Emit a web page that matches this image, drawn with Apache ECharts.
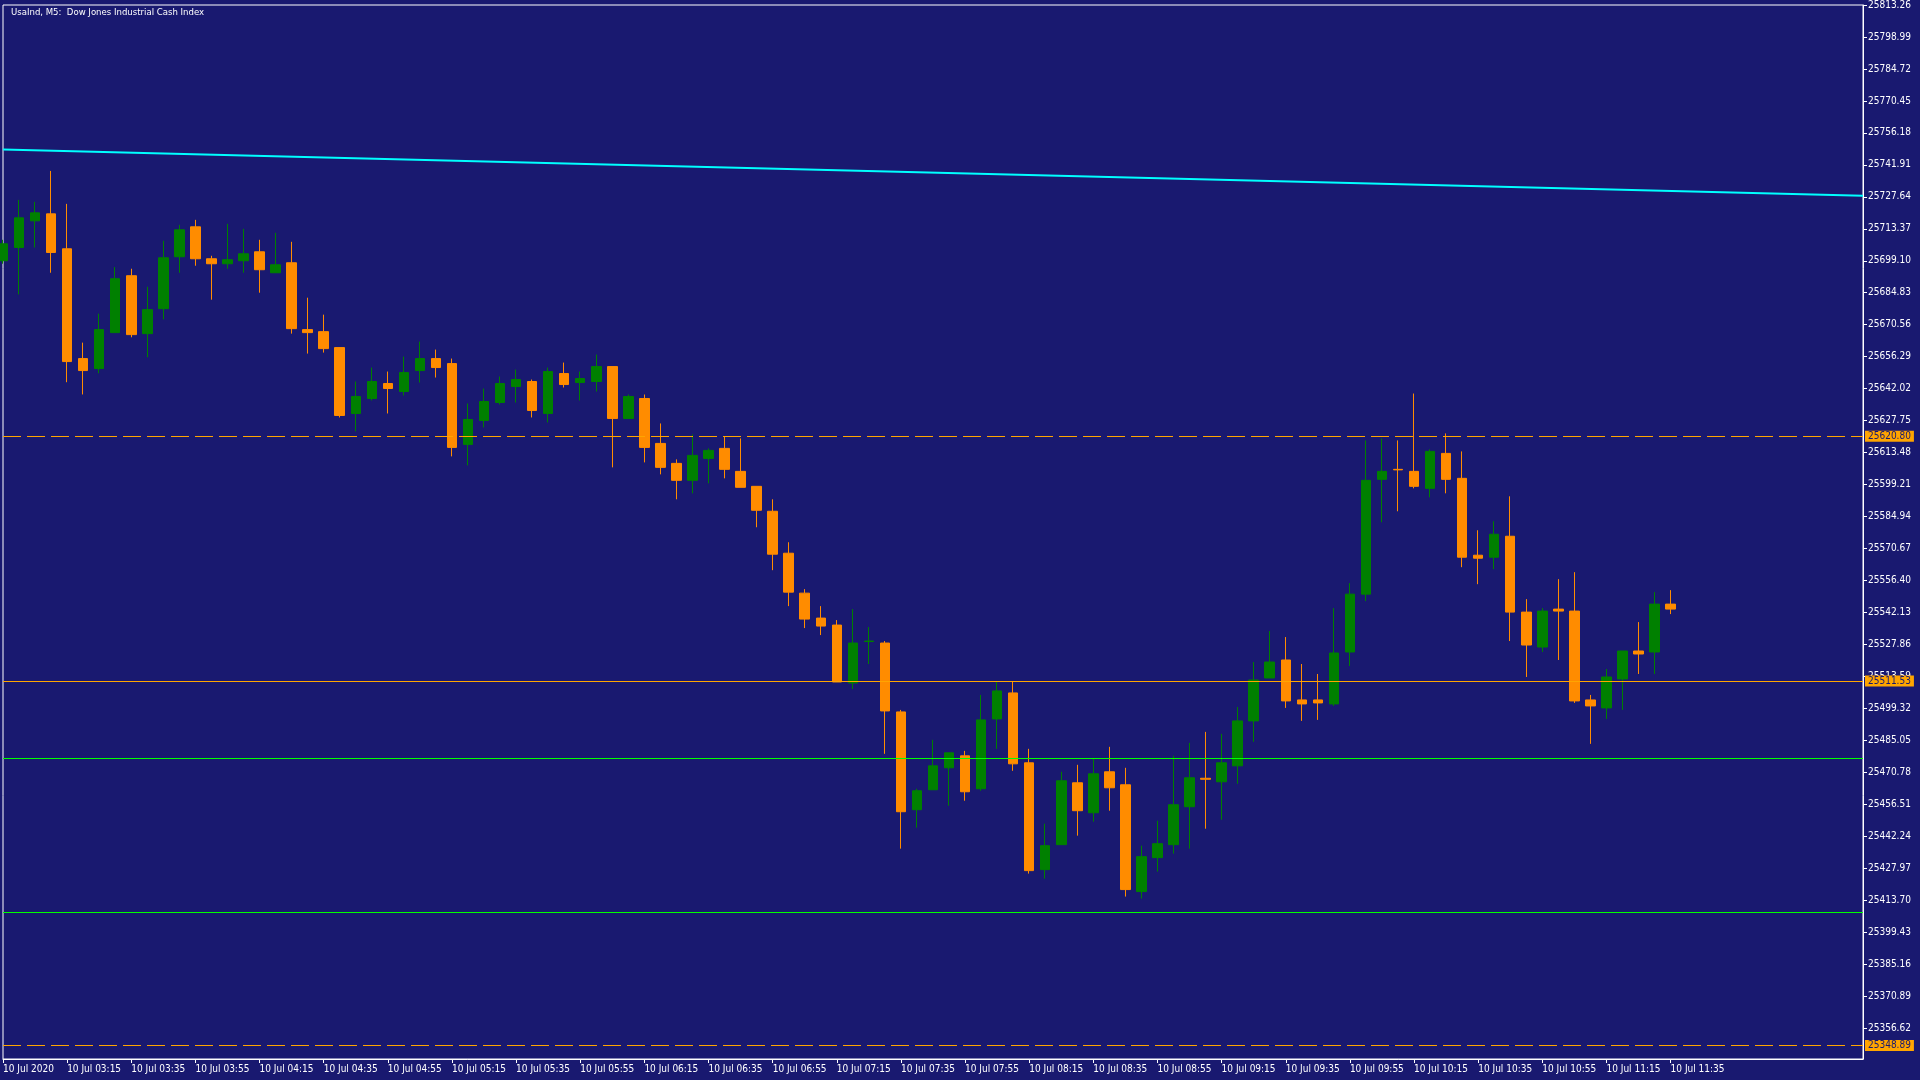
<!DOCTYPE html>
<html>
<head>
<meta charset="utf-8">
<title>UsaInd M5</title>
<script src="https://cdn.jsdelivr.net/npm/echarts@6/dist/echarts.min.js"></script>
<style>
  html, body { margin: 0; padding: 0; background: #191970; }
  #chart { width: 1920px; height: 1080px; }
</style>
</head>
<body>
<div id="chart"></div>
<script>
// UsaInd M5 - Dow Jones Industrial Cash Index, 10 Jul 2020 02:55 - 11:35

const openVals = [
  25699.11, 25705.03, 25716.93, 25720.04, 25704.45, 25655.45, 25650.99, 25667.03, 25692.43, 25666.58,
  25677.72, 25700.89, 25714.25, 25700.00, 25697.77, 25699.11, 25703.11, 25693.76, 25698.21, 25668.37,
  25667.47, 25660.35, 25630.94, 25637.63, 25644.31, 25640.75, 25650.10, 25655.45, 25653.22, 25617.13,
  25627.83, 25635.84, 25642.97, 25645.20, 25630.94, 25648.77, 25644.75, 25645.20, 25651.88, 25628.72,
  25637.63, 25617.58, 25608.67, 25601.10, 25610.89, 25615.36, 25605.10, 25598.42, 25587.29, 25568.57,
  25550.75, 25539.62, 25536.50, 25510.65, 25529.15, 25528.48, 25497.74, 25454.08, 25462.99, 25472.79,
  25478.14, 25463.44, 25494.62, 25506.21, 25475.02, 25427.35, 25438.49, 25466.11, 25452.74, 25471.01,
  25465.22, 25417.55, 25432.70, 25438.49, 25455.42, 25468.12, 25466.56, 25473.68, 25493.73, 25512.88,
  25520.91, 25503.09, 25503.09, 25501.30, 25524.48, 25550.31, 25601.54, 25606.00, 25605.10, 25597.53,
  25613.13, 25601.99, 25567.68, 25566.79, 25576.15, 25542.29, 25526.70, 25543.63, 25542.74, 25503.09,
  25499.52, 25512.44, 25524.92, 25524.48, 25545.85
];
const highVals = [
  25708.46, 25726.28, 25725.39, 25739.20, 25724.50, 25662.57, 25675.49, 25696.30, 25695.54, 25687.52,
  25708.02, 25715.14, 25717.37, 25701.33, 25715.59, 25713.36, 25708.46, 25711.58, 25707.57, 25682.62,
  25675.05, 25660.35, 25645.20, 25651.44, 25649.66, 25656.34, 25663.02, 25659.46, 25655.45, 25635.40,
  25642.08, 25647.43, 25650.55, 25646.09, 25651.44, 25653.66, 25649.66, 25657.23, 25651.88, 25639.41,
  25639.41, 25626.49, 25610.45, 25621.59, 25615.36, 25620.80, 25619.81, 25598.42, 25592.63, 25573.47,
  25552.53, 25544.96, 25538.73, 25543.63, 25535.61, 25529.37, 25498.63, 25463.44, 25485.27, 25479.47,
  25480.36, 25505.31, 25511.10, 25511.10, 25481.26, 25447.84, 25471.01, 25474.13, 25477.25, 25482.15,
  25472.79, 25438.04, 25449.18, 25478.14, 25483.93, 25488.83, 25487.94, 25499.97, 25520.01, 25533.84,
  25531.16, 25519.12, 25514.67, 25544.07, 25555.21, 25618.92, 25619.81, 25618.92, 25639.85, 25614.91,
  25622.04, 25614.02, 25578.82, 25582.84, 25593.97, 25548.08, 25544.07, 25556.99, 25560.11, 25505.31,
  25516.90, 25524.92, 25537.84, 25551.20, 25552.09
];
const lowVals = [
  25697.77, 25684.09, 25705.03, 25693.76, 25644.90, 25639.43, 25648.90, 25667.03, 25664.94, 25656.03,
  25672.95, 25693.76, 25696.88, 25681.73, 25695.54, 25693.76, 25684.85, 25693.76, 25666.58, 25657.67,
  25658.12, 25629.16, 25622.92, 25636.74, 25630.94, 25638.96, 25644.75, 25646.98, 25611.79, 25607.78,
  25624.71, 25634.95, 25635.84, 25629.16, 25626.94, 25642.53, 25636.74, 25640.75, 25606.89, 25628.72,
  25609.11, 25603.77, 25592.63, 25595.30, 25599.76, 25601.99, 25597.98, 25580.16, 25561.00, 25544.96,
  25535.16, 25532.04, 25511.10, 25507.99, 25519.12, 25479.03, 25436.71, 25446.06, 25462.99, 25455.86,
  25458.09, 25462.55, 25481.26, 25471.45, 25425.57, 25423.34, 25438.49, 25442.50, 25448.73, 25453.64,
  25415.32, 25414.43, 25426.46, 25434.48, 25436.71, 25445.61, 25449.62, 25465.67, 25484.38, 25512.88,
  25499.52, 25493.73, 25494.18, 25500.41, 25518.23, 25547.19, 25582.39, 25587.29, 25597.53, 25593.52,
  25595.30, 25562.34, 25554.76, 25561.45, 25529.37, 25513.33, 25524.48, 25520.91, 25501.75, 25483.48,
  25494.62, 25498.63, 25514.67, 25514.67, 25541.40
];
const closeVals = [
  25706.68, 25718.26, 25720.49, 25702.80, 25654.11, 25650.10, 25668.37, 25691.09, 25666.14, 25677.28,
  25700.44, 25712.92, 25700.00, 25697.77, 25699.55, 25702.22, 25695.10, 25697.32, 25668.81, 25667.03,
  25659.90, 25630.05, 25638.52, 25645.20, 25642.08, 25649.21, 25655.45, 25651.44, 25615.80, 25628.27,
  25636.29, 25644.31, 25646.09, 25632.28, 25649.66, 25643.86, 25646.54, 25651.88, 25628.72, 25638.52,
  25615.80, 25606.89, 25601.10, 25612.24, 25614.47, 25606.00, 25597.98, 25587.73, 25568.13, 25551.20,
  25539.17, 25536.05, 25511.10, 25528.48, 25529.37, 25498.18, 25453.19, 25462.55, 25473.68, 25479.47,
  25462.10, 25494.18, 25507.10, 25474.57, 25426.90, 25438.04, 25467.00, 25453.64, 25470.12, 25463.88,
  25418.44, 25433.14, 25438.93, 25456.31, 25468.34, 25467.67, 25475.02, 25493.73, 25511.99, 25520.01,
  25502.64, 25501.30, 25501.75, 25524.03, 25550.31, 25601.10, 25605.10, 25605.77, 25598.42, 25614.02,
  25601.54, 25566.79, 25566.34, 25577.04, 25542.29, 25527.59, 25542.74, 25542.74, 25502.64, 25500.41,
  25513.33, 25524.92, 25523.58, 25545.85, 25543.63
];

// labels under the time axis, one every 4 bars (20 min)
const timeTickLabels = [
  '10 Jul 2020', '10 Jul 03:15', '10 Jul 03:35', '10 Jul 03:55', '10 Jul 04:15', '10 Jul 04:35',
  '10 Jul 04:55', '10 Jul 05:15', '10 Jul 05:35', '10 Jul 05:55', '10 Jul 06:15', '10 Jul 06:35',
  '10 Jul 06:55', '10 Jul 07:15', '10 Jul 07:35', '10 Jul 07:55', '10 Jul 08:15', '10 Jul 08:35',
  '10 Jul 08:55', '10 Jul 09:15', '10 Jul 09:35', '10 Jul 09:55', '10 Jul 10:15', '10 Jul 10:35',
  '10 Jul 10:55', '10 Jul 11:15', '10 Jul 11:35'
];

// price scale labels
const priceTicks = [
  25356.62, 25370.89, 25385.16, 25399.43, 25413.70, 25427.97, 25442.24, 25456.51, 25470.78,
  25485.05, 25499.32, 25513.59, 25527.86, 25542.13, 25556.40, 25570.67, 25584.94, 25599.21,
  25613.48, 25627.75, 25642.02, 25656.29, 25670.56, 25684.83, 25699.10, 25713.37, 25727.64,
  25741.91, 25756.18, 25770.45, 25784.72, 25798.99, 25813.26
];
const priceMin = 25342.82;
const priceMax = 25813.26;

// horizontal levels
const dashedLevels = [25620.80, 25348.89];
const solidLevels = [25511.53];
const greenLevels = [25477.20, 25408.10];

// trend line from left edge to right edge
const trendLine = [25748.80, 25728.08];

const barCount = openVals.length;
const slotCount = 117; // bars + empty space on the right

const categories = [];
for (let i = 0; i < slotCount; i++) {
  const m = 2 * 60 + 55 + i * 5;
  const hh = String(Math.floor(m / 60)).padStart(2, '0');
  const mm = String(m % 60).padStart(2, '0');
  categories.push('10 Jul ' + hh + ':' + mm);
}

const candles = openVals.map((o, i) => [o, closeVals[i], lowVals[i], highVals[i]]);

const FONT = '"DejaVu Sans Condensed", "Liberation Sans Narrow", "Liberation Sans", sans-serif';
const ORANGE = '#FFA500';
const GREEN_LINE = '#00FF00';

const showTick = idx => idx % 4 === 0 && idx < barCount;

const levelLabel = {
  show: true,
  position: 'end',
  distance: 2,
  formatter: p => Number(p.value).toFixed(2),
  backgroundColor: ORANGE,
  color: '#191970',
  fontFamily: FONT,
  fontSize: 10,
  padding: [1, 3, 0, 3]
};

const markData = [];
dashedLevels.forEach(v => markData.push({
  yAxis: v,
  lineStyle: { color: ORANGE, width: 1, type: [18, 6] },
  label: levelLabel
}));
solidLevels.forEach(v => markData.push({
  yAxis: v,
  lineStyle: { color: ORANGE, width: 1, type: 'solid' },
  label: levelLabel
}));
greenLevels.forEach(v => markData.push({
  yAxis: v,
  lineStyle: { color: GREEN_LINE, width: 1, type: 'solid' },
  label: { show: false }
}));

const myChart = echarts.init(document.getElementById('chart'));

const option = {
  animation: false,
  backgroundColor: '#191970',
  title: {
    text: 'UsaInd, M5:  Dow Jones Industrial Cash Index',
    left: 6,
    top: 3,
    textStyle: { color: '#ffffff', fontSize: 9.5, fontWeight: 'normal', fontFamily: FONT }
  },
  grid: {
    left: 2,
    top: 3,
    right: 57,
    bottom: 21,
    show: true,
    borderColor: '#ffffff',
    borderWidth: 1,
    backgroundColor: 'transparent'
  },
  xAxis: {
    type: 'category',
    data: categories,
    boundaryGap: false,
    axisLine: { show: true, lineStyle: { color: '#ffffff', width: 1 } },
    axisTick: { show: true, interval: showTick, length: 4, lineStyle: { color: '#ffffff' } },
    axisLabel: {
      show: true,
      interval: showTick,
      formatter: (val, idx) => timeTickLabels[idx / 4],
      align: 'left',
      margin: 5,
      color: '#ffffff',
      fontFamily: FONT,
      fontSize: 10
    },
    splitLine: { show: false }
  },
  yAxis: {
    type: 'value',
    position: 'right',
    min: priceMin,
    max: priceMax,
    scale: true,
    axisLine: { show: true, lineStyle: { color: '#ffffff', width: 1 } },
    axisTick: { show: true, length: 4, customValues: priceTicks, lineStyle: { color: '#ffffff' } },
    axisLabel: {
      show: true,
      customValues: priceTicks,
      formatter: v => v.toFixed(2),
      margin: 5,
      color: '#ffffff',
      fontFamily: FONT,
      fontSize: 10
    },
    splitLine: { show: false }
  },
  series: [
    {
      name: 'trend',
      type: 'line',
      data: [[0, trendLine[0]], [slotCount - 1, trendLine[1]]],
      showSymbol: false,
      symbol: 'none',
      silent: true,
      z: 1,
      lineStyle: { color: '#00FFFF', width: 2 }
    },
    {
      name: 'UsaInd',
      type: 'candlestick',
      data: candles,
      barWidth: 10,
      clip: true,
      z: 3,
      itemStyle: {
        color: '#008000',
        color0: '#FF8C00',
        borderColor: '#008000',
        borderColor0: '#FF8C00',
        borderWidth: 1
      },
      markLine: {
        silent: true,
        symbol: ['none', 'none'],
        animation: false,
        data: markData
      }
    }
  ]
};

myChart.setOption(option);
</script>
</body>
</html>
